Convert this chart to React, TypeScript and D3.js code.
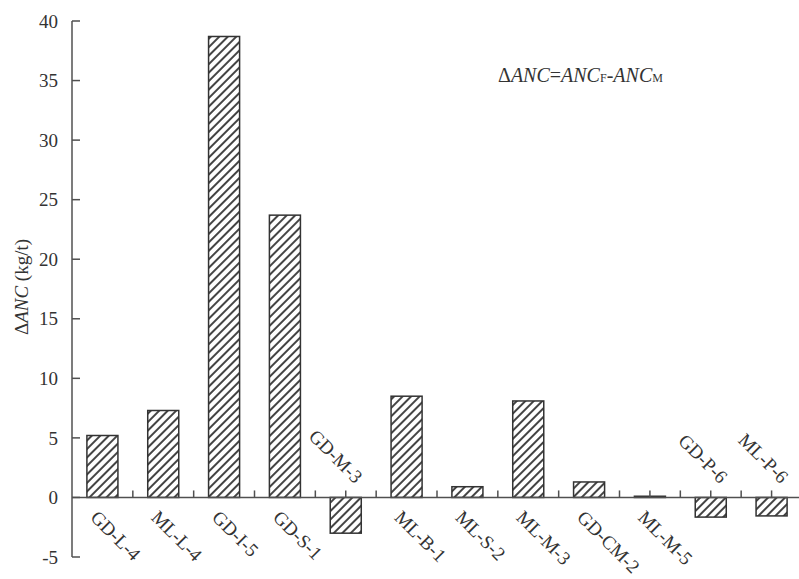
import React from "react";
import * as d3 from "d3";

const categories = ["GD-L-4", "ML-L-4", "GD-I-5", "GD-S-1", "GD-M-3", "ML-B-1", "ML-S-2", "ML-M-3", "GD-CM-2", "ML-M-5", "GD-P-6", "ML-P-6"];
const values = [5.2, 7.3, 38.7, 23.7, -3.0, 8.5, 0.9, 8.1, 1.3, 0.1, -1.65, -1.55];
const yTicks = [-5, 0, 5, 10, 15, 20, 25, 30, 35, 40];

const W = 799, H = 579;
const x0 = 72, x1 = 802;
const yTop = 21, yBot = 557;

export default function App() {
  const x = d3.scaleBand<string>().domain(categories).range([x0, x1]).paddingInner(0.49).paddingOuter(0.245);
  const band = d3.scaleBand<string>().domain(categories).range([x0, x1]);
  const y = d3.scaleLinear().domain([-5, 40]).range([yBot, yTop]);
  const axisCol = "#505050";
  const font = "'Liberation Serif', 'Times New Roman', serif";
  const y0 = y(0);
  return (
    <svg width={W} height={H} style={{ position: "absolute", left: 0, top: 0 }} fontFamily={font}>
      <defs>
        <pattern id="hatch" patternUnits="userSpaceOnUse" width={6} height={6} patternTransform="rotate(45)">
          <rect width={6} height={6} fill="#fff" />
          <line x1={1} y1={0} x2={1} y2={6} stroke="#3a3a3a" strokeWidth={1.9} />
        </pattern>
      </defs>
      <rect width={W} height={H} fill="#fff" />
      {/* bars */}
      {categories.map((c, i) => {
        const v = values[i];
        const top = y(Math.max(0, v));
        const bot = y(Math.min(0, v));
        return (
          <rect key={c} x={x(c)} y={top} width={x.bandwidth()} height={Math.max(bot - top, 1)}
            fill="url(#hatch)" stroke="#333" strokeWidth={1.5} />
        );
      })}
      {/* y axis */}
      <line x1={x0} y1={yTop} x2={x0} y2={yBot} stroke={axisCol} strokeWidth={1.5} />
      {yTicks.map((t) => (
        <g key={t}>
          <line x1={x0} x2={x0 + 8} y1={y(t)} y2={y(t)} stroke={axisCol} strokeWidth={1.5} />
          <text x={x0 - 14} y={y(t)} dy="0.35em" textAnchor="end" fontSize={19} fill="#333">{t}</text>
        </g>
      ))}
      {/* x axis */}
      <line x1={x0} y1={y0} x2={W} y2={y0} stroke={axisCol} strokeWidth={1.5} />
      {categories.map((c, i) => {
        const bx = band(c)!;
        const cx = x(c)! + x.bandwidth() / 2;
        return (
          <g key={c}>
            {i > 0 && <line x1={bx} x2={bx} y1={y0} y2={y0 - 7} stroke={axisCol} strokeWidth={1.5} />}
            {(values[i] < 0 || c === "ML-M-5") && <line x1={cx} x2={cx} y1={y0} y2={y0 - 7} stroke={axisCol} strokeWidth={1.5} />}
          </g>
        );
      })}
      {/* labels */}
      {categories.map((c, i) => {
        const cx = x(c)! + x.bandwidth() / 2;
        const neg = values[i] < 0;
        if (neg) {
          const ax = cx + 9, ay = y0 - 13;
          return (
            <text key={c} x={ax} y={ay} transform={`rotate(45 ${ax} ${ay})`} textAnchor="end" fontSize={19} fill="#333">{c}</text>
          );
        }
        const ax = cx - 13, ay = y0 + 21;
        return (
          <text key={c} x={ax} y={ay} transform={`rotate(45 ${ax} ${ay})`} textAnchor="start" fontSize={19} fill="#333">{c}</text>
        );
      })}
      {/* y title */}
      <text transform={`translate(28 287) rotate(-90)`} textAnchor="middle" fontSize={19} fill="#333">
        Δ<tspan fontStyle="italic">ANC</tspan> (kg/t)
      </text>
      {/* annotation */}
      <text x={498} y={82} fontSize={20} fill="#333">
        Δ<tspan fontStyle="italic">ANC</tspan>=<tspan fontStyle="italic">ANC</tspan><tspan fontSize={12}>F</tspan>-<tspan fontStyle="italic">ANC</tspan><tspan fontSize={12}>M</tspan>
      </text>
    </svg>
  );
}
